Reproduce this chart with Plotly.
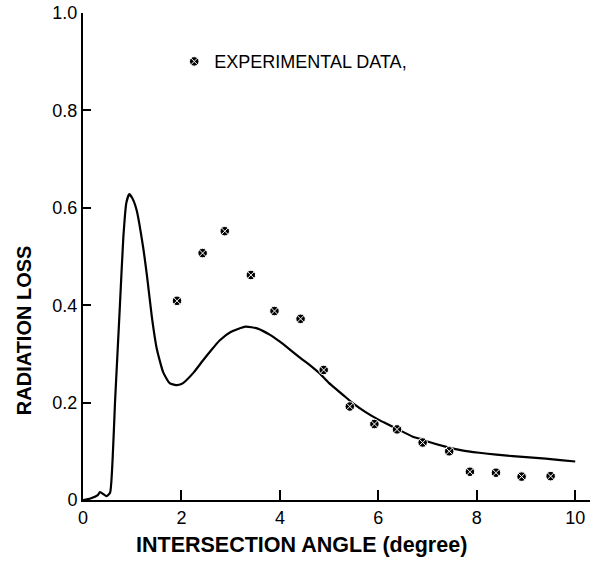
import plotly.graph_objects as go

# Theory curve
curve_x = [0.0, 0.15, 0.3, 0.34, 0.4, 0.48, 0.55, 0.6, 0.65, 0.7, 0.75, 0.82, 0.88, 0.94,
           1.0, 1.09, 1.22, 1.3, 1.4, 1.5, 1.63, 1.76, 1.89, 2.0, 2.1, 2.25, 2.44, 2.6, 2.78,
           3.0, 3.3, 3.55, 3.8, 4.0, 4.13, 4.4, 4.67, 4.81, 5.0, 5.35, 5.48, 5.75, 6.02,
           6.16, 6.4, 6.7, 6.84, 7.0, 7.38, 7.7, 8.05, 8.4, 8.73, 9.0, 9.4, 9.7, 10.0]
curve_y = [0.0, 0.003, 0.01, 0.016, 0.013, 0.008, 0.015, 0.08, 0.2, 0.3, 0.40, 0.54, 0.61, 0.628,
           0.62, 0.595, 0.52, 0.46, 0.375, 0.31, 0.262, 0.24, 0.236, 0.238, 0.246, 0.262, 0.287, 0.307, 0.328,
           0.345, 0.356, 0.352, 0.339, 0.325, 0.315, 0.293, 0.272, 0.26, 0.24, 0.21, 0.199, 0.18, 0.164,
           0.157, 0.145, 0.13, 0.126, 0.12, 0.109, 0.102, 0.097, 0.093, 0.09, 0.088, 0.085, 0.082, 0.079]

# Experimental data
exp_x = [1.91, 2.43, 2.88, 3.41, 3.89, 4.42, 4.89, 5.42, 5.92, 6.38, 6.90, 7.44, 7.86, 8.39, 8.91, 9.50]
exp_y = [0.409, 0.507, 0.552, 0.462, 0.388, 0.372, 0.267, 0.192, 0.156, 0.145, 0.118, 0.100, 0.058, 0.056, 0.048, 0.049]

x_ticks = [0, 2, 4, 6, 8, 10]
x_tick_labels = ["0", "2", "4", "6", "8", "10"]
y_ticks = [0, 0.2, 0.4, 0.6, 0.8, 1.0]
y_tick_labels = ["0", "0.2", "0.4", "0.6", "0.8", "1.0"]

FONT = "Liberation Sans, Arial, sans-serif"

fig = go.Figure()
fig.add_trace(go.Scatter(
    x=curve_x, y=curve_y, mode="lines",
    line=dict(color="black", width=2.2, shape="spline", smoothing=0.5),
    showlegend=False, cliponaxis=False,
))
fig.add_trace(go.Scatter(
    x=exp_x, y=exp_y, mode="markers", name="EXPERIMENTAL DATA,",
    marker=dict(symbol="circle-x", size=9.5, color="black",
                line=dict(color="white", width=1)),
    showlegend=True,
))

fig.update_layout(
    width=596, height=562,
    margin=dict(l=83, r=6, t=13, b=62, autoexpand=False),
    paper_bgcolor="white", plot_bgcolor="white",
    font=dict(family=FONT, color="black", size=18),
    showlegend=True,
    legend=dict(x=0.18, y=0.9, xanchor="left", yanchor="middle",
                bgcolor="rgba(0,0,0,0)", borderwidth=0,
                font=dict(family=FONT, size=18, color="black")),
    xaxis=dict(range=[0, 10.3], tickvals=x_ticks, ticktext=x_tick_labels,
               showgrid=False, zeroline=False, showline=True, linecolor="black",
               linewidth=2, ticks="inside", ticklen=10, tickwidth=1.5, tickcolor="black",
               tickfont=dict(size=18, family=FONT), mirror=False, automargin=False,
               ticklabeloverflow="allow"),
    yaxis=dict(range=[0, 1.0], tickvals=y_ticks, ticktext=y_tick_labels,
               showgrid=False, zeroline=False, showline=True, linecolor="black",
               linewidth=2, ticks="inside", ticklen=8, tickwidth=1.5, tickcolor="black",
               tickfont=dict(size=18, family=FONT), mirror=False, automargin=False,
               ticklabeloverflow="allow"),
    annotations=[
        dict(text="<b>RADIATION LOSS</b>", xref="paper", yref="paper",
             x=-0.116, y=(500 - 330) / 487, xanchor="center", yanchor="middle",
             textangle=-90, showarrow=False, font=dict(size=20, family=FONT)),
        dict(text="<b>INTERSECTION ANGLE (degree)</b>", xref="paper", yref="paper",
             x=(301 - 83) / 507, y=-45 / 487, xanchor="center", yanchor="middle",
             showarrow=False, font=dict(size=21.5, family=FONT)),
    ],
)

# remove the browser's default 8px body margin so the figure sits at the page origin
fig.write_html("out.html", config={"displayModeBar": False},
               post_script="document.body.style.margin='0';document.body.style.padding='0';")
